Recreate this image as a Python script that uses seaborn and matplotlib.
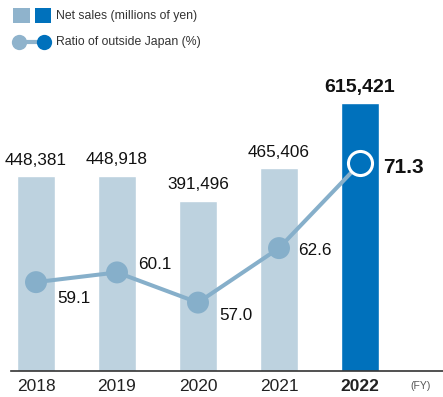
import matplotlib
matplotlib.use("Agg")
import matplotlib.pyplot as plt
from matplotlib.patches import Rectangle
from matplotlib.lines import Line2D
import numpy as np
import pandas as pd
import seaborn as sns

# Data
years = ["2018", "2019", "2020", "2021", "2022"]
net_sales = [448381, 448918, 391496, 465406, 615421]
overseas_ratio = [59.1, 60.1, 57.0, 62.6, 71.3]

LIGHT_BAR = "#BDD2DF"
DARK_BAR = "#0071BC"
LINE_C = "#86AFCA"
TEXT_C = "#111111"

sns.set_theme(style="white")
plt.rcParams["font.family"] = ["Liberation Sans", "DejaVu Sans"]

W, H, DPI = 443, 397, 100
fig = plt.figure(figsize=(W / DPI, H / DPI), dpi=DPI)

# axes box in pixels
left_px, right_px = 11, 443
bottom_px, top_px = 397 - 370.7, 397 - 60
ax = fig.add_axes([left_px / W, bottom_px / H, (right_px - left_px) / W, (top_px - bottom_px) / H])

df = pd.DataFrame({"year": years, "sales": net_sales, "ratio": overseas_ratio})
bar_colors = [LIGHT_BAR] * (len(years) - 1) + [DARK_BAR]
sns.barplot(data=df, x="year", y="sales", hue="year", palette=bar_colors,
            legend=False, width=0.47, saturation=1, ax=ax)

slot = 81.0
x0 = -(36 - left_px) / slot
ax.set_xlim(x0, x0 + (right_px - left_px) / slot)
ax.set_ylim(0, 715000)

for s in ["top", "left", "right"]:
    ax.spines[s].set_visible(False)
ax.spines["bottom"].set_color("#333333")
ax.spines["bottom"].set_linewidth(1.2)
ax.set_yticks([])
ax.set_xlabel("")
ax.set_ylabel("")
ax.tick_params(axis="x", length=0, pad=6, labelsize=12.5, colors="#222222")
for i, lbl in enumerate(ax.get_xticklabels()):
    if i == len(years) - 1:
        lbl.set_fontweight("bold")

# value labels above bars
for i, v in enumerate(net_sales):
    last = i == len(years) - 1
    ax.annotate(f"{v:,}", (i, v), xytext=(0, 5 if last else 6), textcoords="offset points",
                ha="center", va="bottom", color=TEXT_C,
                fontsize=14 if last else 12.3,
                fontweight="bold" if last else "normal")

# ratio line on a secondary axis
ax2 = ax.twinx()
ax2.set_ylim(50, 81.93)
ax2.set_yticks([])
for s in ax2.spines.values():
    s.set_visible(False)
xs = np.arange(len(years))
sns.lineplot(x=xs, y=overseas_ratio, ax=ax2, color=LINE_C, linewidth=2.9, zorder=3)
ax2.scatter(xs[:-1], overseas_ratio[:-1], s=250, color=LINE_C, edgecolor="none", zorder=4)
ax2.scatter(xs[-1:], overseas_ratio[-1:], s=300, color=DARK_BAR, edgecolor="white",
            linewidth=2.2, zorder=5)
ax2.set_xlim(ax.get_xlim())

offsets = [(15, -12), (15, 6), (15, -9), (14, -2), (17, -3)]
for i, (v, off) in enumerate(zip(overseas_ratio, offsets)):
    last = i == len(years) - 1
    ax2.annotate(f"{v:.1f}", (i, v), xytext=off, textcoords="offset points",
                 ha="left", va="center", color=TEXT_C,
                 fontsize=15 if last else 12.3,
                 fontweight="bold" if last else "normal")

fig.text(410 / W, 1 - 386 / H, "(FY)", fontsize=7.5, color="#555555", ha="left", va="center")

# legend
def px(x, y):
    return x / W, 1 - y / H

fig.patches.append(Rectangle(px(13, 23), 17 / W, 15 / H, transform=fig.transFigure,
                             facecolor="#8FB3CC", edgecolor="none"))
fig.patches.append(Rectangle(px(35, 23), 16 / W, 15 / H, transform=fig.transFigure,
                             facecolor=DARK_BAR, edgecolor="none"))
fig.text(*px(56, 15.5), "Net sales (millions of yen)", fontsize=8.8, color="#333333",
         ha="left", va="center")
ly = 41.7
fig.lines.append(Line2D([19 / W, 44 / W], [1 - ly / H] * 2, transform=fig.transFigure,
                        color="#8FB3CC", linewidth=3))
fig.lines.append(Line2D([19 / W], [1 - ly / H], transform=fig.transFigure, marker="o",
                        markersize=11, color="#8FB3CC", markeredgewidth=0, linestyle="none"))
fig.lines.append(Line2D([44 / W], [1 - ly / H], transform=fig.transFigure, marker="o",
                        markersize=11, color=DARK_BAR, markeredgewidth=0, linestyle="none"))
fig.text(*px(56, ly), "Ratio of outside Japan (%)", fontsize=8.8, color="#333333",
         ha="left", va="center")

fig.savefig("out.png", dpi=DPI)
